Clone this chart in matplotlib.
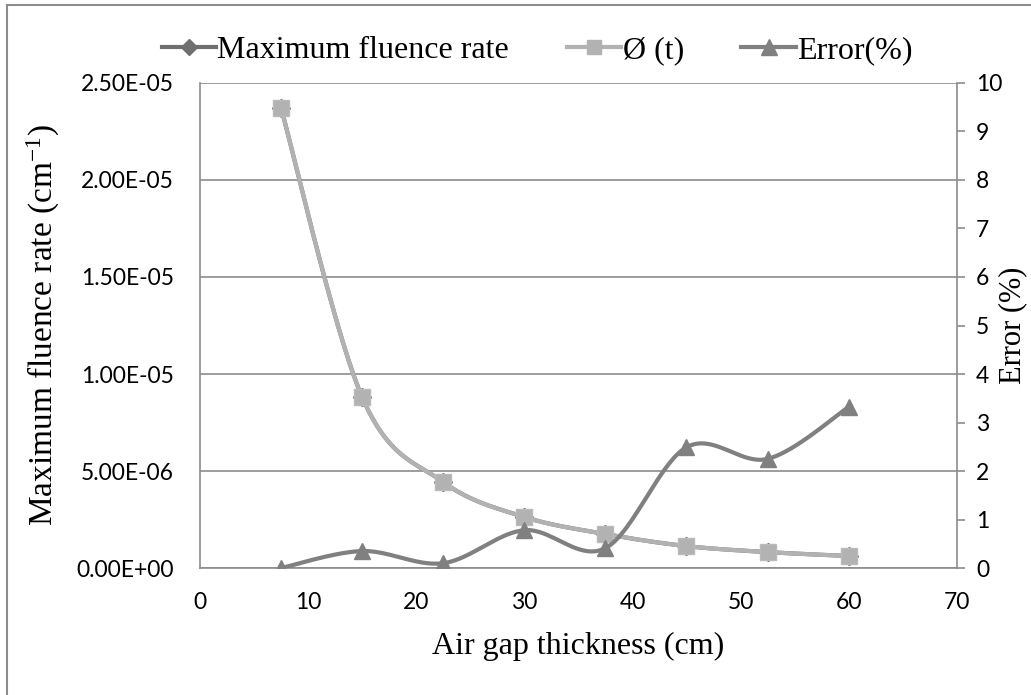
import numpy as np
import matplotlib.pyplot as plt
from matplotlib.patches import Rectangle
from matplotlib.ticker import FuncFormatter, MultipleLocator

plt.rcParams["mathtext.default"] = "regular"

air_gap = [7.5, 15, 22.5, 30, 37.5, 45, 52.5, 60]
max_fluence = [2.37e-05, 8.8e-06, 4.43e-06, 2.63e-06, 1.75e-06, 1.13e-06, 8.2e-07, 6.2e-07]
phi_t = [2.37e-05, 8.8e-06, 4.43e-06, 2.63e-06, 1.75e-06, 1.13e-06, 8.2e-07, 6.2e-07]
error_pct = [0.0, 0.35, 0.1, 0.78, 0.41, 2.49, 2.25, 3.32]

DARK = "#6f6f6f"
LIGHT = "#b2b2b2"
ERR = "#808080"
GRID = "#8c8c8c"
TICK_FONT = "Lato"
SERIF = "Liberation Serif"


def smooth(x, y, steps=40):
    # Catmull-Rom style bezier segments, like a spreadsheet "smoothed line"
    x = np.asarray(x, float)
    y = np.asarray(y, float)
    px = np.concatenate([[x[0]], x, [x[-1]]])
    py = np.concatenate([[y[0]], y, [y[-1]]])
    t = np.linspace(0, 1, steps)[:, None]
    xs, ys = [], []
    for i in range(1, len(px) - 2):
        p0 = np.array([px[i], py[i]])
        p3 = np.array([px[i + 1], py[i + 1]])
        p1 = p0 + (p3 - np.array([px[i - 1], py[i - 1]])) / 6
        p2 = p3 - (np.array([px[i + 2], py[i + 2]]) - p0) / 6
        b = ((1 - t) ** 3) * p0 + 3 * ((1 - t) ** 2) * t * p1 + 3 * (1 - t) * t ** 2 * p2 + t ** 3 * p3
        xs.append(b[:, 0])
        ys.append(b[:, 1])
    return np.concatenate(xs), np.concatenate(ys)


fig = plt.figure(figsize=(10.31, 6.95), dpi=100)
ax = fig.add_axes([0.194, 0.1827, 0.734, 0.6979])
ax2 = ax.twinx()

# fluence series on the primary axis
sx, sy = smooth(air_gap, max_fluence)
ax.plot(sx, sy, color=DARK, lw=3, zorder=3)
ax.plot(air_gap, max_fluence, ls="none", marker="D", ms=9, color=DARK, zorder=3)
sx, sy = smooth(air_gap, phi_t)
ax.plot(sx, sy, color=LIGHT, lw=3, zorder=4)
ax.plot(air_gap, phi_t, ls="none", marker="s", ms=11, color=LIGHT, mec="#bababa", zorder=4)

# error on the secondary axis
ex, ey = smooth(air_gap, error_pct)
ax2.plot(ex, ey, color=ERR, lw=3, zorder=5)
ax2.plot(air_gap, error_pct, ls="none", marker="^", ms=12, color=ERR, zorder=5)

ax.set_xlim(0, 70)
ax.set_ylim(0, 2.5e-05)
ax2.set_ylim(0, 10)
ax.xaxis.set_major_locator(MultipleLocator(10))
ax.yaxis.set_major_locator(MultipleLocator(5e-06))
ax2.yaxis.set_major_locator(MultipleLocator(1))
ax.yaxis.set_major_formatter(FuncFormatter(lambda v, p: f"{v:.2E}"))

ax.grid(axis="y", color=GRID, lw=1.2)
ax.set_axisbelow(True)
for a in (ax, ax2):
    for s in a.spines.values():
        s.set_visible(False)
ax.spines["left"].set_visible(True)
ax.spines["bottom"].set_visible(True)
ax2.spines["right"].set_visible(True)
for s in (ax.spines["left"], ax.spines["bottom"], ax2.spines["right"]):
    s.set_color(GRID)
    s.set_linewidth(1.2)

ax.tick_params(axis="x", length=0, labelsize=16.5, pad=17)
ax.tick_params(axis="y", length=0, labelsize=16.5, pad=19)
ax2.tick_params(axis="y", length=6, width=1.2, color=GRID, labelsize=16.5, pad=8)
for lab in ax.get_xticklabels() + ax.get_yticklabels() + ax2.get_yticklabels():
    lab.set_fontfamily(TICK_FONT)

ax.set_xlabel("Air gap thickness (cm)", fontfamily=SERIF, fontsize=23, labelpad=14)
ax.set_ylabel("Maximum fluence rate (cm$^{-1}$)", fontfamily=SERIF, fontsize=24, labelpad=10)
ax2.set_ylabel("Error (%)", fontfamily=SERIF, fontsize=22, labelpad=-3)

handles = [
    plt.Line2D([], [], color=DARK, lw=3, marker="D", ms=8),
    plt.Line2D([], [], color=LIGHT, lw=3, marker="s", ms=10),
    plt.Line2D([], [], color=ERR, lw=3, marker="^", ms=11),
]
fig.legend(handles, ["Maximum fluence rate", "Ø (t)", "Error(%)"], loc="center",
           bbox_to_anchor=(0.521, 0.928), ncol=3, frameon=False,
           prop={"family": SERIF, "size": 23}, handlelength=1.7,
           handletextpad=0.05, columnspacing=1.8)

fig.add_artist(Rectangle((7 / 1031, -0.01), 1.02, 1 - 5 / 695 + 0.01,
                         transform=fig.transFigure, fill=False,
                         ec="#8c8c8c", lw=1.5))

fig.savefig("out.png", dpi=100)
